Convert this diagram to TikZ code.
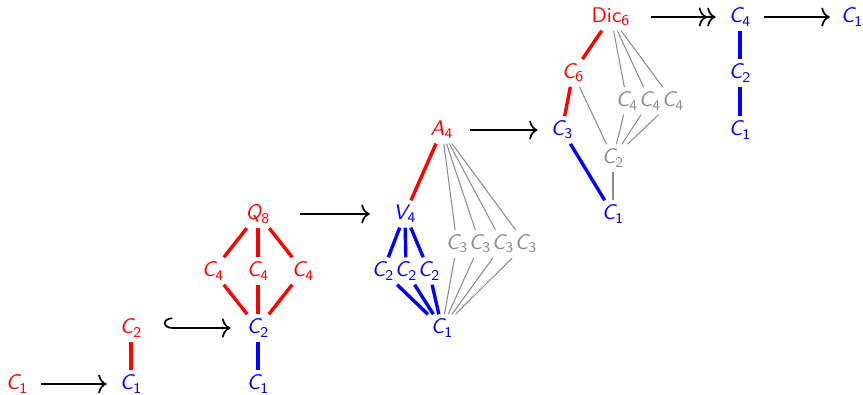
\documentclass[tikz,border=0pt]{standalone}
\usepackage{amsmath}
\usetikzlibrary{arrows.meta}

% group names: sans italic letter, sans subscript
\newcommand{\grp}[2]{$\textsf{\itshape #1}_{\textsf{#2}}$}
\newcommand{\dic}[1]{$\textsf{Dic}_{\textsf{#1}}$}

\begin{document}
\begin{tikzpicture}[x=0.0166cm,y=-0.0166cm,
    rg/.style={text=red,inner sep=2pt},
    bg/.style={text=blue,inner sep=2pt},
    gg/.style={text=black!45,inner sep=2pt},
    rline/.style={red,line width=1.6pt},
    bline/.style={blue,line width=1.6pt},
    gline/.style={black!45,line width=0.5pt},
    map/.style={thick,-{To[length=4pt,width=9pt]},shorten <=4pt,shorten >=4pt}]
  \useasboundingbox (0,0) rectangle (863,395);

  % C1 -> C2
  \node[rg] (a1) at (17,384) {\grp{C}{1}};
  \node[bg] (b1) at (131,384) {\grp{C}{1}};
  \node[rg] (b2) at (131,328) {\grp{C}{2}};
  \draw[rline] (b1) -- (b2);
  \draw[map] (a1) -- (b1);

  % Q8
  \node[bg] (q1) at (258,384) {\grp{C}{1}};
  \node[bg] (q2) at (258,328) {\grp{C}{2}};
  \node[rg] (q4a) at (213,271) {\grp{C}{4}};
  \node[rg] (q4b) at (258,271) {\grp{C}{4}};
  \node[rg] (q4c) at (303,271) {\grp{C}{4}};
  \node[rg] (q8) at (258,214) {\grp{Q}{8}};
  \draw[bline] (q1) -- (q2);
  \foreach \n in {q4a,q4b,q4c} {
    \draw[rline] (q2) -- (\n);
    \draw[rline] (\n) -- (q8);
  }
  \draw[thick,shorten >=5.5pt,{Hooks[right,length=4pt,width=10pt]}-{To[length=4pt,width=9pt]}]
    (b2.east) ++(17,0) coordinate (h0) -- (q2.west);

  % A4
  \node[bg] (t1) at (442,328) {\grp{C}{1}};
  \node[bg] (t2a) at (383,271) {\grp{C}{2}};
  \node[bg] (t2b) at (406,271) {\grp{C}{2}};
  \node[bg] (t2c) at (429,271) {\grp{C}{2}};
  \node[bg] (v4) at (405,214) {\grp{V}{4}};
  \node[rg] (a4) at (442,130) {\grp{A}{4}};
  \foreach \n in {t2a,t2b,t2c} {
    \draw[bline] (t1) -- (\n);
    \draw[bline] (\n) -- (v4);
  }
  \draw[rline] (v4) -- (a4);
  \foreach \x [count=\i] in {457,480,503,526} {
    \node[gg] (t3\i) at (\x,244) {\grp{C}{3}};
    \draw[gline] (t1) -- (t3\i);
    \draw[gline] (t3\i) -- (a4);
  }
  \draw[map,shorten <=0pt,shorten >=9pt] (q8) ++(42,0) coordinate (m0) -- (v4.west);

  % Dic6
  \node[bg] (d1) at (613,214) {\grp{C}{1}};
  \node[gg] (d2) at (613,158) {\grp{C}{2}};
  \node[bg] (d3) at (562,130) {\grp{C}{3}};
  \node[rg] (d6) at (573,73) {\grp{C}{6}};
  \node[rg] (dic) at (611,17) {\dic{6}};
  \draw[bline] (d1) -- (d3);
  \draw[rline] (d3) -- (d6);
  \draw[rline] (d6) -- (dic);
  \draw[gline] (d1) -- (d2);
  \draw[gline] (d2) -- (d6);
  \foreach \x [count=\i] in {627,650,673} {
    \node[gg] (d4\i) at (\x,101) {\grp{C}{4}};
    \draw[gline] (d2) -- (d4\i);
    \draw[gline] (d4\i) -- (dic);
  }
  \draw[map,shorten <=0pt] (a4) ++(28,0) coordinate (m1) -- (d3.west);

  % quotient C4 and the last map
  \node[bg] (e1) at (740,130) {\grp{C}{1}};
  \node[bg] (e2) at (740,73) {\grp{C}{2}};
  \node[bg] (e4) at (740,17) {\grp{C}{4}};
  \node[bg] (f1) at (852,17) {\grp{C}{1}};
  \draw[bline] (e1) -- (e2);
  \draw[bline] (e2) -- (e4);
  \draw[thick,shorten >=4pt,-{To[length=4pt,width=9pt]To[length=4pt,width=9pt]}]
    (dic.east) ++(16,0) coordinate (m2) -- (e4.west);
  \draw[map,shorten >=3pt] (e4) -- (f1);
\end{tikzpicture}
\end{document}
